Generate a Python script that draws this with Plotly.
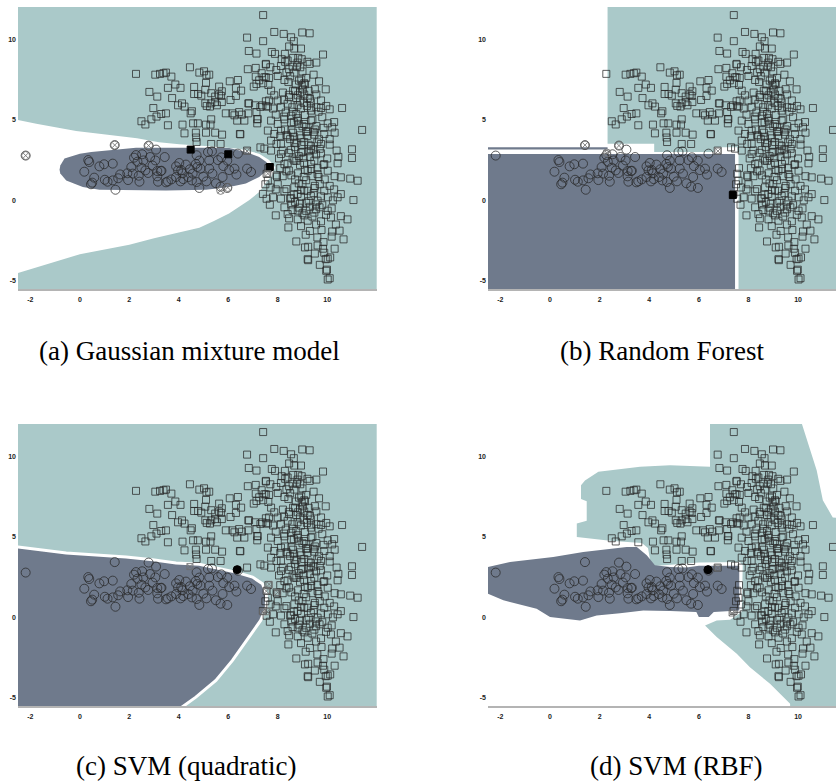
import plotly.graph_objects as go

# ---------------- data ----------------
# class "square" points
squares = [
    # upper-left arm
    (2.27,7.85),(3.05,7.8),(3.24,7.85),(3.38,7.89),(3.48,7.93),(3.7,7.68),(4.45,8.26),(4.83,7.93),(5.02,8.01),(5.12,7.76),(5.23,7.8),
    (3.86,7.19),(3.56,6.98),(4.07,6.98),(4.62,7.04),(4.62,6.6),(4.78,6.6),(4.91,6.5),(5.07,6.87),(5.1,7.29),
    (5.31,6.65),(5.47,6.44),(5.63,7.06),(5.71,6.48),(5.74,6.77),
    (6.06,7.39),(6.39,7.47),(6.31,6.98),(6.09,6.23),(6.31,6.48),(6.52,6.81),
    (6.79,8.14),(7.11,8.22),(7.11,7.68),(7.35,7.89),(7.52,8.43),(7.52,7.64),(7.41,7.27),(7.14,7.22),(7.03,7.06),(6.81,6.02),
    (2.81,6.73),(3.13,6.44),(2.97,5.73),(3.73,6.35),(3.97,5.9),(4.13,6.02),(4.23,5.82),(4.48,5.4),(4.53,5.53),
    (5.07,6.02),(5.13,5.86),(5.26,5.82),(5.31,6.02),(5.47,6.1),(5.54,5.9),(5.63,6.57),(5.74,6.1),
    (2.49,4.91),(2.65,4.71),(2.89,5.03),(3.1,5.2),(3.29,5.36),(3.48,5.4),(3.56,4.66),
    (4.15,4.7),(4.58,4.78),(4.77,4.78),(5.1,4.7),(5.28,4.7),(5.31,5.03),
    (5.9,5.4),(6.17,5.4),(6.25,5.28),(6.44,5.48),(6.55,5.32),(6.65,4.95),(6.36,4.95),
    (6.84,6.02),(6.81,5.4),(7.14,5.48),(7.17,5.03),(7.08,5.9),(7.38,5.9),(7.52,6.15),
    (4.23,4.16),(4.69,4.2),(5.1,4.2),(5.47,4.2),(5.75,4.08),(6.47,4.12),(7.17,4.78),(4.7,3.9),
    (4.72,3.62),(5.31,3.5),(5.69,3.5),(6.76,3.09),(7.3,3.29),(7.46,3.21),
    (6.76,10.1),(6.83,9.27),(7.14,9.11),(7.25,7.45),(7.62,7.16),(7.41,11.5),
    (7.3,5.8),(7.54,5.84),(7.65,6.2),(7.19,5.05),(6.49,4.1),
    # main cluster
    (7.86,10.45),(8.24,10.33),(8.54,10.12),(8.65,9.88),(8.99,10.42),(9.29,10.37),(7.41,9.88),
    (8.46,9.55),(8.67,9.42),(8.94,9.42),(9.83,9.05),(9.56,8.55),(9.29,8.47),
    (7.76,9.21),(7.89,9.09),(8.29,9.09),(8.16,8.76),(8.4,8.68),(8.62,8.84),(8.83,8.84),(8.97,8.76),(8.91,8.26),
    (7.52,8.47),(7.7,8.26),(7.94,8.09),(8.13,8.34),(8.46,8.14),(8.67,7.93),(8.78,8.3),
    (7.46,7.64),(7.65,7.6),(8.0,7.72),(8.27,7.47),(8.43,7.35),(8.73,7.19),(8.86,7.43),(8.97,7.14),(9.07,7.27),
    (9.67,7.39),(9.94,6.89),(9.56,6.57),
    (7.73,6.81),(7.86,6.52),(8.0,6.19),(8.21,6.69),(8.46,6.4),(8.62,6.81),(8.81,6.52),(9.02,6.89),(9.07,6.57),(9.21,6.35),(9.34,6.07),
    (7.6,5.82),(7.81,5.7),(7.92,5.32),(8.13,5.78),(8.32,5.45),(8.59,5.78),(8.75,5.36),(8.94,5.7),(9.18,5.86),(9.34,5.57),(9.56,5.78),(9.75,5.73),(9.96,5.86),(10.1,5.65),(10.6,5.73),
    (7.73,4.95),(8.0,4.74),(8.27,5.03),(8.54,4.83),(8.81,4.95),(9.07,4.74),(9.34,4.95),(9.56,4.61),(9.8,5.16),(10.02,4.78),(10.28,4.86),(10.2,4.53),(11.41,4.37),
    (7.6,4.33),(7.86,4.12),(8.13,4.33),(8.4,3.96),(8.62,4.2),(8.89,4.04),(9.21,4.29),(9.48,4.08),(9.67,3.79),(9.88,4.12),(10.1,3.46),(7.73,3.71),(8.13,3.5),(8.67,3.58),(9.07,3.62),(9.34,3.37),(9.75,3.5),
    (7.73,3.09),(8.13,2.88),(8.54,3.12),(8.94,2.96),(9.34,3.17),(9.75,2.92),(10.38,3.09),(11.0,3.17),(11.0,2.63),
    (8.27,2.25),(8.67,2.47),(9.07,2.3),(9.48,2.47),(9.88,2.25),(10.42,2.3),(8.35,1.8),(8.81,1.68),(9.21,1.84),(9.61,1.63),(10.02,1.84),(10.55,1.43),(10.93,1.35),(11.23,1.22),(7.97,1.47),(7.6,1.22),
    (7.92,0.68),(8.27,0.56),(8.67,0.81),(9.07,0.6),(9.48,0.76),(9.88,0.6),(10.28,0.68),(10.55,0.39),(11.06,0.02),(7.81,0.19),(8.13,0.11),(8.54,0.14),(8.94,0.23),(9.34,0.27),(9.61,-0.02),(10.02,0.19),(10.42,0.19),
    (7.68,-0.27),(7.92,-0.93),(8.27,-0.43),(8.4,-0.85),(8.81,-0.64),(9.07,-0.93),(9.48,-0.76),(9.69,-0.43),(10.02,-0.64),(10.15,-1.06),(10.55,-0.98),(10.82,-1.18),(8.81,-1.18),(9.21,-1.26),(9.75,-1.3),
    (8.43,-1.68),(8.94,-1.6),(9.13,-2.13),(9.77,-1.84),(10.2,-1.93),(10.5,-1.88),(10.18,-2.25),(10.66,-2.42),(8.75,-2.55),(9.1,-2.92),(9.23,-2.88),(9.61,-2.8),(9.85,-2.59),(9.83,-3.0),(9.88,-3.25),(9.23,-3.71),(10.02,-3.62),(10.12,-3.54),(9.96,-4.37),(10.02,-4.91),(10.1,-4.83),
    (9.21,-3.65),(9.94,-3.65),(9.99,-4.3),(8.46,-1.12),(10.23,0.0),(10.18,-0.5),
    (7.4,0.4),(7.55,0.1),(7.62,2.0),(7.55,1.65),(7.95,1.55),(7.5,1.0),(7.7,0.8),
    # dense core
    (8.4,6.0),(8.6,5.5),(8.8,5.1),(9.0,4.6),(9.2,4.0),(8.5,3.8),(8.7,3.3),(9.0,3.0),(9.3,2.7),(8.6,2.6),(8.9,2.2),(9.1,1.9),(9.4,1.5),(8.7,1.3),(9.0,1.0),
    (9.2,0.6),(8.8,0.4),(9.5,0.9),(9.6,2.0),(9.7,3.2),(8.3,4.4),(8.2,3.1),(8.1,2.0),(8.0,1.0),(8.5,0.1),(8.9,-0.2),(9.3,-0.4),(9.0,-0.8),(8.6,-0.6),(9.4,-1.0),
    (9.8,-0.3),(9.9,1.3),(10.0,2.6),(10.1,3.8),(9.5,4.4),(9.1,5.3),(8.9,6.2),(9.3,6.3),(8.7,6.8),(9.1,7.2),(8.5,7.7),(9.0,8.0),(8.3,8.6),(8.8,5.9),(9.4,5.0),
    (9.6,3.6),(8.4,2.3),(8.2,1.5),(8.35,0.7),(8.7,-0.1),(9.15,-0.15),(9.55,-0.55),(9.25,3.45),(8.95,3.85),(8.55,4.35),(9.35,2.25),(8.85,2.75),(9.05,1.45),(8.45,1.85),(9.7,1.0),
    (9.85,2.2),(8.75,3.55),(9.45,3.15),(9.15,4.25),(8.65,4.85),(9.65,5.5),(8.25,5.2),(8.1,4.0),(7.95,3.5),(8.05,2.6),(9.25,6.8),(8.95,7.5),(9.45,7.8),(8.6,8.3),(9.2,8.6),
    (8.45,6.55),(8.75,6.35),(9.05,6.05),(9.35,5.75),(8.55,5.25),(8.85,4.75),(9.15,4.55),(9.45,4.25),(8.35,4.05),(8.65,3.95),(8.95,3.45),(9.25,3.05),(9.55,2.85),(8.45,2.95),(8.75,2.45),
    (9.05,2.65),(9.35,1.95),(9.65,1.45),(8.55,1.55),(8.85,1.05),(9.15,1.25),(9.45,0.45),(8.65,0.35),(8.95,0.65),(9.25,-0.05),(9.55,-0.25),(8.85,-0.45),(9.15,-0.65),(8.55,-0.25),(9.75,0.25),
    (8.25,6.25),(8.9,6.7),(9.15,7.6),(8.35,7.95),(8.8,8.55),(9.5,6.9),(9.75,6.2),(9.85,4.5),(10.3,4.2),(10.45,2.7),(10.3,1.5),(10.1,0.9),(9.95,-0.9),(9.55,-1.5),(9.3,-1.9),
    (9.6,-2.3),(10.35,-1.5),(9.5,-3.3),(9.7,-4.0),(10.3,-3.0),
]

# class "circle" points
circles = [
    (-2.19,2.78),(1.41,3.43),(2.78,3.4),(0.34,2.5),(0.38,2.38),(0.18,1.78),(0.58,1.41),(0.45,1.0),(0.5,1.1),(0.79,2.11),(0.98,2.24),
    (1.33,2.28),(1.01,1.28),(1.12,1.16),(1.33,1.24),(1.44,0.66),(1.63,1.61),(1.55,1.37),(1.92,1.68),(1.95,1.26),
    (2.08,2.07),(2.14,1.66),(2.19,2.65),(2.27,2.81),(2.33,2.4),(2.38,1.53),(2.41,1.16),(2.52,2.86),(2.57,2.48),(2.49,2.03),(2.65,1.86),
    (2.76,1.7),(2.84,2.69),(2.94,2.16),(3.08,3.15),(3.05,2.48),(3.13,1.82),(3.13,1.49),(3.27,1.82),(3.16,1.16),(3.48,1.12),(3.43,2.69),
    (3.89,2.11),(3.97,1.86),(3.89,1.45),(3.56,1.18),(3.7,1.3),(3.3,1.84),
    (4.07,1.18),(4.15,1.68),(4.29,2.22),(4.45,1.93),(4.69,2.26),(4.72,2.8),(4.83,2.47),(4.88,1.97),(4.99,1.47),(5.12,1.18),(5.18,3.0),
    (5.34,3.04),(5.23,1.97),(5.5,1.06),(5.58,2.5),(5.72,2.67),(5.8,2.13),(5.96,2.47),(6.04,1.88),(6.25,1.97),(6.33,1.6),(6.76,1.97),
    (6.92,1.76),(5.69,0.85),(5.96,0.77),(4.83,0.77),(4.72,1.14),(4.1,1.88),(4.02,2.32),(4.18,1.32),(4.39,1.45),(4.53,1.24),(4.56,1.66),
    (4.75,2.07),(5.23,2.48),(5.36,1.66),(5.77,1.45),(6.39,2.9),
]

# misclassified / highlighted points per panel
a_circle_x = [(-2.19,2.78),(1.41,3.43),(2.78,3.4),(5.69,0.62),(5.98,0.8)]
a_filled_square = [(4.48,3.15),(6.0,2.86),(7.68,2.07)]
a_square_x = [(6.76,3.06),(7.6,1.66)]
b_circle_x = [(1.41,3.43),(2.78,3.4),(2.29,2.94)]
b_square_x = [(6.77,3.06)]
b_filled_square = [(7.37,0.33)]
c_filled_circle = [(6.36,2.96)]
c_square_x = [(4.45,3.15),(7.65,2.05),(7.54,1.63),(8.0,1.55),(7.38,0.35),(7.57,0.35)]
d_filled_circle = [(6.37,2.96)]
d_square_x = [(7.34,0.27),(6.76,3.06)]

# decision regions (boundary outlines, data coordinates)
full_area = [(-3,-6),(13,-6),(13,13),(-3,13)]
a_white = [(-2.7,5.05),(-1.76,4.75),(-0.15,4.3),(1.2,4.05),(2.31,3.85),(3.2,3.6),(4.02,3.48),(5.36,3.35),(6.44,3.2),(7.25,2.9),
           (7.65,2.5),(7.9,2.05),(7.75,1.5),(7.54,1.14),(7.25,0.52),(6.84,0.0),(6.03,-0.81),(5.4,-1.3),(4.83,-1.7),(4.0,-2.0),
           (3.0,-2.35),(2.0,-2.75),(1.0,-3.05),(0.0,-3.35),(-1.2,-3.9),(-2.7,-4.6)]
a_slate = [(-0.82,1.9),(-0.79,2.17),(-0.62,2.6),(0.0,2.9),(0.46,3.0),(1.2,3.1),(2.27,3.27),(4.83,3.27),(6.04,3.25),(6.71,3.0),
           (7.25,2.69),(7.54,2.38),(7.65,2.07),(7.54,1.82),(7.25,1.45),(6.71,1.04),(6.04,0.83),(5.1,0.66),(4.02,0.62),(3.48,0.62),
           (0.79,0.66),(0.12,0.83),(-0.55,1.24),(-0.79,1.66)]
b_teal = [(2.32,13),(13,13),(13,-6),(7.6,-6),(7.6,3.0),(7.55,3.0),(7.55,3.3),(6.62,3.3),(6.62,3.0),(4.2,3.0),(4.2,3.52),(2.32,3.52)]
b_slate_main = [(-3,-6),(7.46,-6),(7.46,2.88),(-3,2.88)]
b_slate_strip = [(-3,3.16),(2.32,3.16),(2.32,3.3),(-3,3.3)]
c_slate = [(-3,4.42),(-2.5,4.37),(-0.55,4.0),(0.79,3.85),(1.87,3.75),(2.94,3.58),(3.89,3.37),(4.83,3.3),(5.36,3.12),(6.3,2.81),
           (6.98,2.5),(7.38,2.09),(7.54,1.47),(7.54,0.64),(7.31,-0.19),(6.84,-1.22),(6.17,-2.67),(5.5,-3.91),(4.69,-4.95),(4.1,-5.6),
           (4.0,-6),(-3,-6)]
d_teal = [(1.41,8.5),(1.95,9.03),(3.63,9.34),(4.84,9.44),(6.45,9.35),(6.45,13),(9.95,13),(10.35,11.0),(10.75,9.13),(11.0,7.27),
          (11.4,6.2),(13,6.0),(13,-6),(9.68,-6),(9.68,-5.36),(8.87,-4.12),(8.06,-3.09),(7.53,-2.26),(6.72,-1.22),(6.25,-0.5),
          (6.72,-0.19),(7.26,-0.14),(7.55,0.12),(7.73,0.33),(7.77,3.23),(7.66,3.43),(6.0,3.4),(4.84,3.28),(4.1,3.18),(4.03,3.6),
          (3.95,4.3),(3.7,4.62),(3.0,4.7),(2.42,4.76),(1.08,4.98),(1.08,5.82),(1.48,6.0),(1.48,7.2),(1.25,7.35),(1.25,8.2)]
d_slate = [(-3,3.12),(-2.5,3.12),(-1.61,3.44),(0.13,3.75),(1.34,4.06),(3.09,4.37),(3.5,4.37),(3.9,3.85),(4.23,3.23),(4.84,3.12),
           (5.5,3.1),(6.0,3.2),(7.63,3.2),(7.63,0.43),(6.6,0.33),(6.4,0.02),(6.0,0.02),(5.9,0.33),(4.84,0.4),(3.76,0.43),
           (2.82,0.25),(1.88,0.12),(1.21,-0.19),(0.0,0.02),(-0.54,0.54),(-1.88,1.06),(-2.5,1.47),(-3,1.47)]

x_ticks = [-2, 0, 2, 4, 6, 8, 10]
y_ticks = [-5, 0, 5, 10]
captions = ["(a) Gaussian mixture model", "(b) Random Forest", "(c) SVM (quadratic)", "(d) SVM (RBF)"]

# ---------------- styling ----------------
TEAL = "#aac9c9"
SLATE = "#6f7a8c"
MARK = "rgba(40,40,40,0.75)"
GREY = "rgba(110,110,110,0.85)"

W, H = 836, 784
# pixel boxes of the four plot areas (left, right, top, bottom)
boxes = [(18, 376.7, 7, 289), (488, 836, 7, 289), (18, 376.7, 424, 706), (488, 836, 424, 706)]
x_ranges = [[-2.5, 12], [-2.5, 11.53], [-2.5, 12], [-2.5, 11.53]]
y_range = [-5.5, 12]
cap_pos = [(189, 351), (662, 351), (186, 766), (676, 766)]


def xs(pts):
    return [p[0] for p in pts]


def ys(pts):
    return [p[1] for p in pts]


fig = go.Figure()


def axes_of(k):
    s = "" if k == 1 else str(k)
    return "x" + s, "y" + s


def region(pts, color, k, line=None):
    xa, ya = axes_of(k)
    fig.add_trace(go.Scatter(
        x=xs(pts), y=ys(pts), fill="toself", fillcolor=color, mode="lines",
        line=line if line else dict(width=0, color=color),
        hoverinfo="skip", showlegend=False, xaxis=xa, yaxis=ya))


def points(pts, symbol, size, color, k, width=1):
    xa, ya = axes_of(k)
    fig.add_trace(go.Scatter(
        x=xs(pts), y=ys(pts), mode="markers",
        marker=dict(symbol=symbol, size=size, color=color, line=dict(color=color, width=width)),
        hoverinfo="skip", showlegend=False, xaxis=xa, yaxis=ya))


# panel (a)
region(full_area, TEAL, 1)
region(a_white, "white", 1)
region(a_slate, SLATE, 1)
# panel (b)
region(b_teal, TEAL, 2)
region(b_slate_main, SLATE, 2)
region(b_slate_strip, SLATE, 2)
# panel (c)
region(full_area, TEAL, 3)
region(c_slate, SLATE, 3, line=dict(color="white", width=3))
# panel (d)
region(d_teal, TEAL, 4)
region(d_slate, SLATE, 4)

for k in range(1, 5):
    points(squares, "square-open", 7, MARK, k)
    points(circles, "circle-open", 9, MARK, k)

points(a_circle_x, "circle-x-open", 8, GREY, 1)
points(a_filled_square, "square", 7, "black", 1)
points(a_square_x, "square-x-open", 6, GREY, 1)
points(b_circle_x, "circle-x-open", 8, GREY, 2)
points(b_square_x, "square-x-open", 6, GREY, 2)
points(b_filled_square, "square", 7, "black", 2)
points(c_square_x, "square-x-open", 6, GREY, 3)
points(c_filled_circle, "circle", 8, "black", 3)
points(d_square_x, "square-x-open", 6, GREY, 4)
points(d_filled_circle, "circle", 8, "black", 4)

layout = dict(
    width=W, height=H, margin=dict(l=0, r=0, t=0, b=0),
    paper_bgcolor="white", plot_bgcolor="white", showlegend=False,
)
tickfont = dict(family="Liberation Sans", size=7, color="#222", weight="bold")
for k, (l, r, t, b) in enumerate(boxes, start=1):
    suf = "" if k == 1 else str(k)
    layout["xaxis" + suf] = dict(
        domain=[l / W, r / W], range=x_ranges[k - 1], anchor="y" + suf,
        tickvals=x_ticks, ticktext=[str(v) for v in x_ticks], ticks="",
        showgrid=False, zeroline=False, showline=True, linecolor="#b4b4b4", linewidth=2,
        tickfont=tickfont, fixedrange=True, ticklabelstandoff=3)
    layout["yaxis" + suf] = dict(
        domain=[1 - b / H, 1 - t / H], range=y_range, anchor="x" + suf,
        tickvals=y_ticks, ticktext=[str(v) for v in y_ticks], ticks="",
        showgrid=False, zeroline=False, showline=False,
        tickfont=tickfont, fixedrange=True, ticklabelstandoff=1)

layout["annotations"] = [
    dict(text=txt, x=cx / W, y=1 - cy / H, xref="paper", yref="paper",
         xanchor="center", yanchor="middle", showarrow=False,
         font=dict(family="Liberation Serif", size=27, color="black"))
    for txt, (cx, cy) in zip(captions, cap_pos)
]
fig.update_layout(**layout)
fig.write_html(
    "out.html",
    config={"displayModeBar": False},
    post_script="document.body.style.margin='0';document.body.style.overflow='hidden';",
)
